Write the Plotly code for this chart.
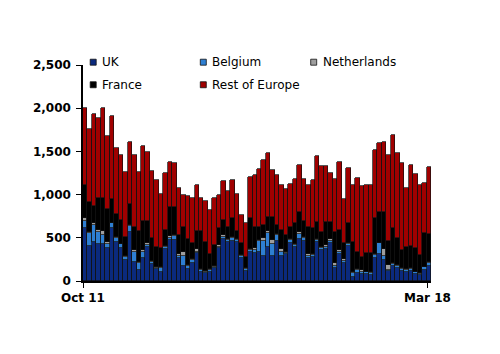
import plotly.graph_objects as go

# ---- data ----
n_bars = 78
uk = [608, 408, 450, 431, 423, 385, 616, 454, 385, 238, 570, 215, 127,
      269, 396, 192, 138, 108, 369, 473, 473, 262, 177, 138, 204, 319,
      108, 89, 108, 146, 377, 485, 454, 466, 446, 262, 119, 331, 319,
      339, 288, 396, 292, 462, 292, 308, 435, 389, 485, 462, 269, 277,
      454, 358, 369, 443, 154, 308, 212, 404, 50, 96, 81, 77, 69,
      262, 308, 242, 119, 177, 154, 115, 108, 115, 81, 69, 127, 177]
belgium = [85, 142, 197, 131, 108, 46, 50, 39, 38, 35, 69, 124, 81,
           62, 20, 31, 16, 38, 23, 27, 47, 26, 115, 35, 34, 20,
           15, 19, 19, 19, 19, 27, 23, 27, 23, 26, 23, 27, 35,
           123, 178, 154, 131, 69, 39, 19, 38, 27, 54, 38, 16, 23,
           19, 27, 27, 23, 19, 31, 19, 19, 46, 27, 27, 23, 20,
           38, 127, 43, 4, 25, 23, 23, 19, 23, 19, 12, 31, 27]
netherlands = [31, 12, 23, 31, 46, 23, 7, 11, 8, 15, 8, 19, 15,
               23, 19, 12, 11, 12, 12, 20, 11, 20, 39, 12, 16, 30,
               12, 11, 11, 12, 20, 19, 8, 11, 12, 12, 12, 7, 23,
               11, 27, 27, 50, 10, 34, 12, 12, 11, 31, 12, 23, 8,
               12, 11, 20, 19, 31, 19, 23, 12, 12, 12, 19, 8, 11,
               8, 8, 84, 58, 5, 8, 8, 11, 8, 8, 8, 7, 11]
france = [392, 354, 196, 369, 378, 385, 274, 277, 273, 224, 250, 269, 354,
          339, 258, 258, 231, 219, 185, 338, 327, 223, 296, 300, 181, 208,
          442, 335, 170, 239, 192, 173, 142, 220, 96, 135, 127, 366, 250,
          154, 154, 166, 270, 106, 224, 192, 142, 239, 223, 181, 319, 308,
          200, 166, 269, 200, 366, 231, 181, 231, 338, 204, 154, 211, 219,
          416, 358, 432, 277, 401, 308, 212, 258, 262, 277, 211, 385, 324]
rest_of_europe = [890, 843, 1070, 924, 1051, 835, 962, 763, 759, 750, 712, 836, 685,
                  866, 801, 777, 770, 628, 662, 520, 505, 547, 366, 496, 531, 539,
                  378, 470, 512, 550, 385, 451, 420, 446, 435, 327, 385, 474, 605,
                  666, 750, 743, 539, 585, 527, 539, 501, 512, 547, 492, 482, 550,
                  762, 770, 643, 570, 615, 789, 512, 647, 670, 854, 820, 797, 790,
                  796, 796, 808, 1001, 1078, 993, 1008, 686, 932, 858, 809, 589, 781]

series_names = ["UK", "Belgium", "Netherlands", "France", "Rest of Europe"]
series_values = [uk, belgium, netherlands, france, rest_of_europe]
series_colors = ["#0b2a7e", "#2e7fd2", "#9e9e9e", "#000000", "#a00000"]

x_tick_labels = ["Oct 11", "Mar 18"]
x_tick_positions = [-0.5, 76.7]
y_tick_values = [0, 500, 1000, 1500, 2000, 2500]

x = list(range(n_bars))

fig = go.Figure()
for name, vals, col in zip(series_names, series_values, series_colors):
    fig.add_trace(go.Bar(
        x=x, y=vals, name=name, showlegend=False,
        marker=dict(color=col, line=dict(color="#111111", width=0.7)),
    ))

# ---- layout geometry (pixels) ----
W, H = 500, 354
L, R, T, B = 83, 69, 64.5, 73
pw = W - L - R
ph = H - T - B

def px_x(p):
    return (p - L) / pw

def px_y(p):
    return (H - B - p) / ph

# custom legend (layout, not data)
legend_items = [
    ("UK", 93.2, 61.7), ("Belgium", 203.3, 61.7), ("Netherlands", 313.7, 61.7),
    ("France", 93.2, 84.3), ("Rest of Europe", 203.3, 84.3),
]
shapes = []
annotations = []
half = 3.0
for (name, cx, cy) in legend_items:
    col = series_colors[series_names.index(name)]
    shapes.append(dict(type="rect", xref="paper", yref="paper",
                       x0=px_x(cx - half), x1=px_x(cx + half),
                       y0=px_y(cy + half), y1=px_y(cy - half),
                       fillcolor=col, line=dict(color="#111111", width=0.8)))
    annotations.append(dict(text=name, xref="paper", yref="paper",
                            x=px_x(cx + 7.0), y=px_y(cy), xanchor="left",
                            yanchor="middle", showarrow=False,
                            font=dict(family="DejaVu Sans", size=12, color="#000000")))

fig.update_layout(
    width=W, height=H,
    margin=dict(l=L, r=R, t=T, b=B, pad=0),
    barmode="stack", bargap=0,
    plot_bgcolor="white", paper_bgcolor="white",
    font=dict(family="DejaVu Sans", size=12, color="#000000"),
    shapes=shapes, annotations=annotations,
    showlegend=False,
)
fig.update_xaxes(
    range=[-0.5, n_bars - 0.5],
    tickmode="array", tickvals=x_tick_positions, ticktext=x_tick_labels,
    ticks="outside", ticklen=5, tickwidth=1.2, tickcolor="#000000",
    showline=True, linecolor="#000000", linewidth=1.5,
    showgrid=False, zeroline=False,
    tickfont=dict(family="DejaVu Sans", size=12, weight="bold", color="#000000"),
)
fig.update_yaxes(
    range=[0, 2500],
    tickmode="array", tickvals=y_tick_values, tickformat=",",
    ticks="outside", ticklen=5, tickwidth=1.2, tickcolor="#000000",
    showline=True, linecolor="#000000", linewidth=1.5,
    showgrid=False, zeroline=False, ticklabelstandoff=3,
    tickfont=dict(family="DejaVu Sans", size=12, weight="bold", color="#000000"),
)

fig.write_html("out.html")
